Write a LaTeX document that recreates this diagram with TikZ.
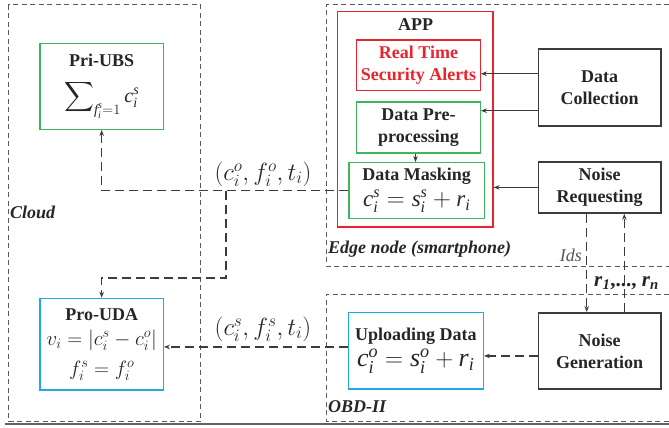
\documentclass[tikz,border=0pt]{standalone}
\usepackage{fontspec}
\setmainfont{Liberation Serif}
\usepackage{amsmath}
\usetikzlibrary{positioning, calc, arrows.meta}
\definecolor{AppRed}{RGB}{232,36,44}
\definecolor{BoxGreen}{RGB}{62,182,92}
\definecolor{BoxCyan}{RGB}{32,170,226}
\definecolor{LineGray}{RGB}{60,60,60}
\newcommand{\mathsz}[2]{{\fontsize{#1}{#1}\selectfont$#2$}}
\newcommand{\tv}[1]{\text{\normalfont\itshape #1}}
\tikzstyle{Arrow} = [
line width=1.1pt, LineGray,
-{Stealth[length=6pt, width=4.5pt]}]
\tikzstyle{DashArrow} = [Arrow, line width=1.4pt, dash pattern=on 9pt off 5pt]
\tikzstyle{Region} = [line width=1pt, LineGray!85, dash pattern=on 5pt off 3.5pt]
\tikzstyle{Block} = [draw, rectangle, align=center, inner sep=0pt, line width=1.2pt]
\tikzstyle{Device} = [Block, draw=LineGray, line width=1.5pt,
minimum width=122.7pt]

\begin{document}
\begin{tikzpicture}[x=1pt, y=-1pt,
    every node/.style={font=\fontsize{18}{22}\selectfont, text=black!85}]
    \useasboundingbox (0,0) rectangle (669,428);

    \draw [Region] (8,5) rectangle (200.5,421);
    \draw [Region] (669,5) -- (326,5) -- (326,266) -- (669,266);
    \draw [Region] (669,294) -- (326,294) -- (326,421) -- (669,421);
    \draw [LineGray!80, line width=1.6pt] (5,423.8) -- (669,423.8);

    \node [inner sep=0pt, anchor=west](cloud) at (10,212){\textbf{\textit{Cloud}}};
    \node [inner sep=0pt, anchor=west](edge) at (328,249){\textbf{\textit{Edge node (smartphone)}}};
    \node [inner sep=0pt, anchor=west](obd) at (328,407){\textbf{\textit{OBD-II}}};

    \node [Block, draw=AppRed, minimum width=155.3pt, minimum height=215.3pt](app) at (415.3,119.3){};
    \node [inner sep=0pt](apptitle) at (415.5,25){\textbf{APP}};
    \node [Block, draw=AppRed, minimum width=123.6pt, minimum height=50.7pt,
        text=AppRed](alerts) at (418.5,65.3){\textbf{Real Time}\\\textbf{Security Alerts}};
    \node [Block, draw=BoxGreen, minimum width=123.6pt, minimum height=51pt](prep) at (418.5,127.5){\textbf{Data Pre-}\\\textbf{processing}};
    \node [Block, draw=BoxGreen, minimum width=135.3pt, minimum height=55.6pt](mask) at (416.7,190.5){\textbf{Data Masking}\\[4pt]\mathsz{23}{\tv{c}_{\tv{i}}^{\tv{s}} = \tv{s}_{\tv{i}}^{\tv{s}} + \tv{r}_{\tv{i}}}};

    \node [Device, minimum height=77pt](collect) at (599.7,87.5){\textbf{Data}\\\textbf{Collection}};
    \node [Device, minimum height=51.3pt](noisereq) at (599.7,187.4){\textbf{Noise}\\\textbf{Requesting}};
    \node [Device, minimum height=76.3pt](noisegen) at (599.7,350.9){\textbf{Noise}\\\textbf{Generation}};
    \node [Block, draw=BoxCyan, minimum width=135pt, minimum height=76.3pt](upload) at (415.8,350.9){\textbf{Uploading Data}\\[4pt]\mathsz{26}{\tv{c}_{\tv{i}}^{\tv{o}} = \tv{s}_{\tv{i}}^{\tv{o}} + \tv{r}_{\tv{i}}}};

    \node [Block, draw=BoxGreen, minimum width=123.3pt, minimum height=86pt](priubs) at (101.7,86.3){\textbf{Pri-UBS}\\[14pt]\mathsz{20}{\displaystyle\sum\nolimits_{\tv{f}_{\tv{i}}^{\tv{s}}=1} \tv{c}_{\tv{i}}^{\tv{s}}}};
    \node [Block, draw=BoxCyan, minimum width=123.3pt, minimum height=91.7pt](proud) at (101.7,344.2){\textbf{Pro-UDA}\\[3pt]\mathsz{20.5}{v_i = \left|c_i^s - c_i^o\right|}\\[8pt]\mathsz{21}{f_i^s = f_i^o}};

    \node (tupleo) at (263,174){\mathsz{25}{(c_i^o, f_i^o, t_i)}};
    \node (tuples) at (263,329){\mathsz{25}{(c_i^s, f_i^s, t_i)}};
    \node [anchor=east, inner sep=0pt, text=LineGray!85](ids) at (582,255){\textit{Ids}};
    \node [anchor=west, inner sep=0pt, font=\fontsize{21}{24}\selectfont](noise) at (594,283){\textbf{\textit{r}\textsubscript{\textit{1}},..., \textit{r}\textsubscript{\textit{n}}}};

    \draw [Arrow] ([yshift=13.8pt]collect.west) to ([yshift=13.8pt]collect.west -| alerts.east);
    \draw [Arrow] ([yshift=-23.2pt]collect.west) to ([yshift=-23.2pt]collect.west -| prep.east);
    \draw [Arrow] (noisereq.west) to (noisereq.west -| app.east);
    \draw [Arrow] ([xshift=-3pt]prep.south) to ([xshift=-3pt]prep.south |- mask.north);

    \draw [DashArrow] ([xshift=-13pt]noisereq.south) to ([xshift=-13pt]noisereq.south |- noisegen.north);
    \draw [DashArrow] ([xshift=24.6pt]noisegen.north) to ([xshift=24.6pt]noisegen.north |- noisereq.south);
    \draw [DashArrow] ([yshift=-5pt]noisegen.west) to ([yshift=-5pt]noisegen.west -| upload.east);
    \draw [DashArrow] ([yshift=4pt]upload.west) to ([yshift=4pt]upload.west -| proud.east);

    \path (mask.west) ++(-122.3,0) coordinate (split);
    \draw [DashArrow] (mask.west) -| (priubs.south);
    \draw [DashArrow] (split) -- ++(0,87.3) -| (proud.north);
\end{tikzpicture}
\end{document}
